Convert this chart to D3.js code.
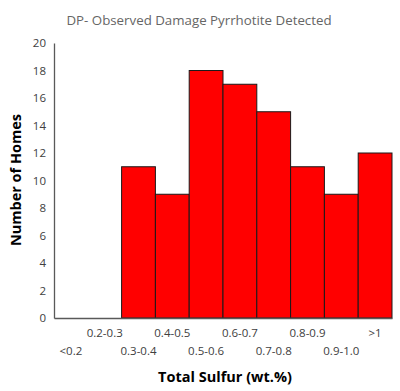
<!DOCTYPE html>
<html><head><meta charset="utf-8">
<script src="https://cdn.jsdelivr.net/npm/d3@7"></script>
<style>body{margin:0;background:#fff}svg{display:block}</style>
</head><body>
<script>
const categories = ["<0.2","0.2-0.3","0.3-0.4","0.4-0.5","0.5-0.6","0.6-0.7","0.7-0.8","0.8-0.9","0.9-1.0",">1"];
const counts = [0,0,11,9,18,17,15,11,9,12];
const yTicks = [0,2,4,6,8,10,12,14,16,18,20];
const title = "DP- Observed Damage Pyrrhotite Detected";
const yTitle = "Number of Homes";
const xTitle = "Total Sulfur (wt.%)";

const W=400,H=391;
const m={left:54,right:8,top:43,bottom:73};
const svg=d3.select("body").append("svg").attr("width",W).attr("height",H);
const x=d3.scaleBand().domain(categories).range([m.left,W-m.right]).padding(0);
const y=d3.scaleLinear().domain([0,20]).range([H-m.bottom,m.top]);
const font="Open Sans, Lato, sans-serif";

svg.append("text").attr("x",199).attr("y",25).attr("text-anchor","middle")
  .attr("font-family",font).attr("font-size",13.3).attr("fill","#666").text(title);

svg.append("g").selectAll("rect").data(categories.map((c,i)=>({c,v:counts[i]})).filter(d=>d.v>0))
  .join("rect").attr("x",d=>x(d.c)).attr("width",x.bandwidth()).attr("y",d=>y(d.v))
  .attr("height",d=>y(0)-y(d.v)).attr("fill","#ff0000").attr("stroke","#1a1a1a").attr("stroke-width",1);

const ya=svg.append("g").attr("transform",`translate(${m.left},0)`)
  .call(d3.axisLeft(y).tickValues(yTicks).tickSize(0).tickPadding(8));
ya.select(".domain").attr("stroke","#595959").attr("stroke-width",1.3);
ya.selectAll("text").attr("font-family",font).attr("font-size",11.5).attr("fill","#404040");

const xa=svg.append("g").attr("transform",`translate(0,${y(0)})`)
  .call(d3.axisBottom(x).tickSize(0).tickPadding(0));
xa.select(".domain").attr("stroke","#595959").attr("stroke-width",1.3);
xa.selectAll("text").attr("font-family",font).attr("font-size",11.5).attr("fill","#404040")
  .attr("dy",null).attr("y",(d,i)=>i%2===1?19:37);

svg.append("text").attr("transform",`translate(21,180) rotate(-90)`).attr("text-anchor","middle")
  .attr("font-family",font).attr("font-size",14.5).attr("font-weight","bold").attr("fill","#000").text(yTitle);
svg.append("text").attr("x",225).attr("y",382).attr("text-anchor","middle")
  .attr("font-family",font).attr("font-size",14.5).attr("font-weight","bold").attr("fill","#000").text(xTitle);
</script>
</body></html>
